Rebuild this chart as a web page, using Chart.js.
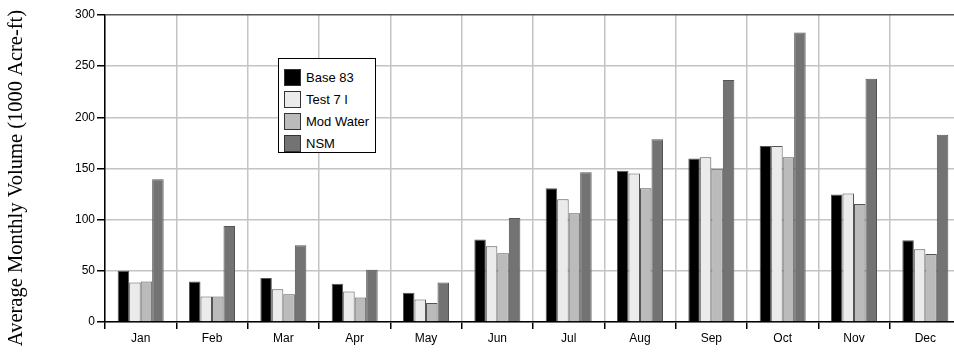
<!DOCTYPE html>
<html>
<head>
<meta charset="utf-8">
<script src="https://cdn.jsdelivr.net/npm/chart.js@4/dist/chart.umd.min.js"></script>
<style>
  html, body { margin: 0; padding: 0; background: #fff; overflow: hidden; }
  body { width: 954px; height: 356px; position: relative; }
  #wrap { position: absolute; left: 0; top: 0; width: 961px; height: 356px; }
  #legende {
    position: absolute; left: 278px; top: 58px; width: 98px; height: 95px;
    border: 1px solid #000; background: #fff; box-sizing: border-box;
    font-family: "Liberation Sans", Arial, sans-serif; font-size: 13px; color: #000;
    padding: 7px 0 0 5px;
  }
  .item { height: 22px; display: flex; align-items: center; }
  .carre { width: 15px; height: 15px; border: 1px solid #333; margin-right: 5px; }
</style>
</head>
<body>
<div id="wrap"><canvas id="graphe"></canvas></div>
<div id="legende"></div>
<script>
// Données
const mois = ['Jan', 'Feb', 'Mar', 'Apr', 'May', 'Jun', 'Jul', 'Aug', 'Sep', 'Oct', 'Nov', 'Dec'];
const base83 = [50, 39.5, 43, 37.5, 28.7, 80.7, 130.7, 147.7, 159.8, 172, 124.5, 80];
const test7I = [38.5, 25, 32, 29.7, 22, 74, 120, 145, 161, 172, 125.5, 71];
const modWater = [39.5, 25, 27, 24, 18.6, 67.3, 106.2, 130.7, 149.7, 161, 115.4, 66.4];
const nsm = [139.5, 93.8, 75, 51, 38.5, 101.6, 146.4, 178.7, 236.6, 283, 237.6, 183];
const series = ['Base 83', 'Test 7 I', 'Mod Water', 'NSM'];
const couleurs = ['#000000', '#ebebeb', '#bbbbbb', '#737373'];
const yTicks = [0, 50, 100, 150, 200, 250, 300];
const titreY = 'Average Monthly Volume (1000 Acre-ft)';

const valeurs = [base83, test7I, modWater, nsm];

// Légende HTML placée dans la zone du graphique
const leg = document.getElementById('legende');
series.forEach(function (nom, i) {
    const d = document.createElement('div');
    d.className = 'item';
    d.innerHTML = '<span class="carre" style="background:' + couleurs[i] + '"></span>' + nom;
    leg.appendChild(d);
});

// Titre de l'axe Y dessiné à la main (un peu décalé vers le bas comme l'original)
const titrePlugin = {
    id: 'titreY',
    afterDraw: function (chart) {
        const c = chart.ctx;
        c.save();
        c.translate(17, 178);
        c.rotate(-Math.PI / 2);
        c.font = '20.5px "Liberation Serif", "Times New Roman", serif';
        c.fillStyle = '#000';
        c.textAlign = 'center';
        c.textBaseline = 'middle';
        c.fillText(titreY, 0, 0);
        c.restore();
    }
};

const ctx = document.getElementById('graphe').getContext('2d');
new Chart(ctx, {
    type: 'bar',
    data: {
        labels: mois,
        datasets: series.map(function (nom, i) {
            return {
                label: nom,
                data: valeurs[i],
                backgroundColor: couleurs[i],
                borderColor: '#555',
                borderWidth: { top: 1, left: 1, right: 1, bottom: 0 },
                categoryPercentage: 0.645,
                barPercentage: 1
            };
        })
    },
    options: {
        responsive: true,
        maintainAspectRatio: false,
        animation: false,
        layout: { padding: { top: 15, right: 0, left: 0, bottom: 0 } },
        plugins: { legend: { display: false }, tooltip: { enabled: false } },
        scales: {
            x: {
                grid: {
                    offset: true,
                    color: '#c4c4c4',
                    lineWidth: 1.5,
                    tickColor: '#000',
                    tickLength: 7,
                    tickWidth: 1.5
                },
                border: { color: '#000', width: 1.5 },
                ticks: {
                    color: '#000',
                    padding: 2,
                    font: { family: '"Liberation Sans", Arial, sans-serif', size: 12 }
                },
                afterFit: function (s) { s.height = 34; }
            },
            y: {
                min: 0,
                max: 300,
                afterBuildTicks: function (s) { s.ticks = yTicks.map(function (v) { return { value: v }; }); },
                grid: {
                    color: function (c) { return c.tick && c.tick.value === 300 ? '#555' : '#c4c4c4'; },
                    lineWidth: 1.5,
                    tickColor: '#000',
                    tickLength: 8
                },
                border: { color: '#000', width: 1.5 },
                ticks: {
                    color: '#000',
                    padding: 2,
                    font: { family: '"Liberation Sans", Arial, sans-serif', size: 12 }
                },
                afterFit: function (s) { s.width = 105; }
            }
        }
    },
    plugins: [titrePlugin]
});
</script>
</body>
</html>
